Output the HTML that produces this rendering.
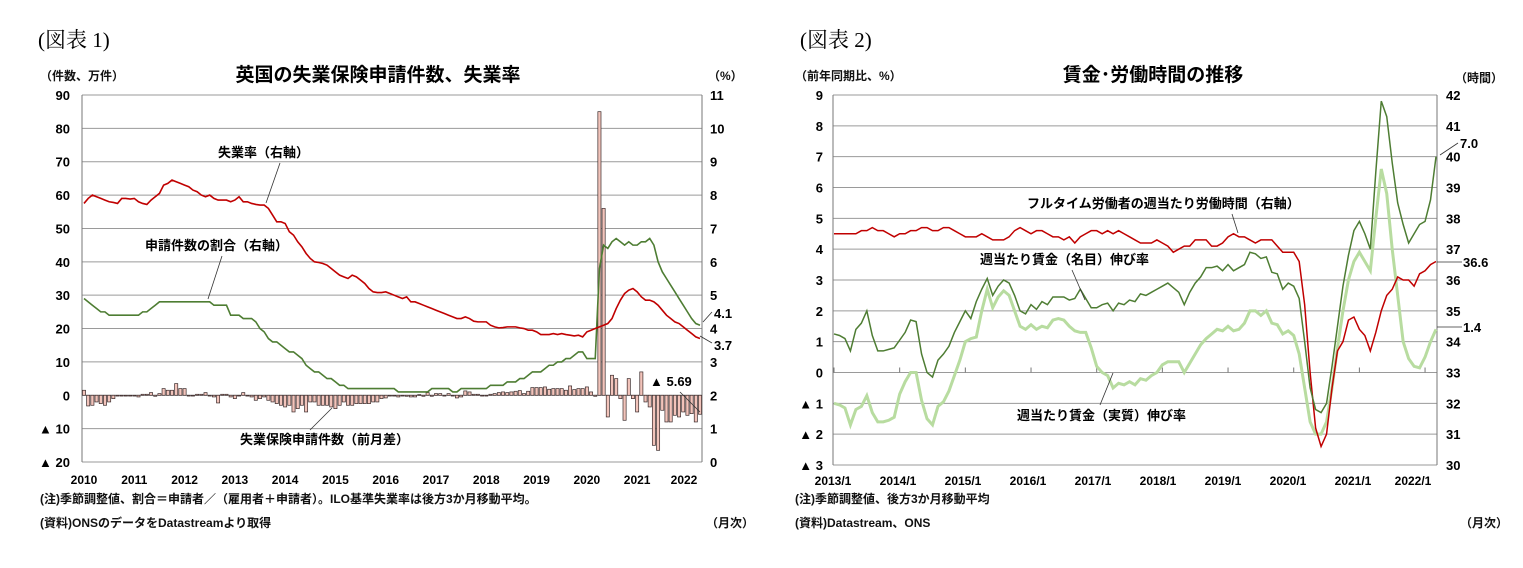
<!DOCTYPE html>
<html><head><meta charset="utf-8">
<style>
html,body{margin:0;padding:0;background:#fff;}
svg{display:block;font-family:"Liberation Sans","Noto Sans CJK JP",sans-serif;}
.t{font-size:12px;font-weight:bold;fill:#111}
</style></head>
<body>
<svg id="s" width="1523" height="568" viewBox="0 0 1523 568">
<text x="38" y="47" font-size="21" font-family="Liberation Serif,Noto Serif CJK SC,serif">(図表 1)</text>
<text x="800" y="47" font-size="21" font-family="Liberation Serif,Noto Serif CJK SC,serif">(図表 2)</text>
<text x="378" y="81" font-size="19" font-weight="bold" text-anchor="middle">英国の失業保険申請件数、失業率</text>
<text x="1153" y="81" font-size="19" font-weight="bold" text-anchor="middle">賃金･労働時間の推移</text>
<text x="40" y="80" class="t">（件数、万件）</text>
<text x="708" y="80" class="t">（%）</text>
<text x="795" y="80" class="t">（前年同期比、%）</text>
<text x="1455" y="82" class="t">（時間）</text>
<text x="40" y="503" class="t">(注)季節調整値、割合＝申請者／（雇用者＋申請者）。ILO基準失業率は後方3か月移動平均。</text>
<text x="40" y="527" class="t">(資料)ONSのデータをDatastreamより取得</text>
<text x="706" y="527" class="t">（月次）</text>
<text x="795" y="503" class="t">(注)季節調整値、後方3か月移動平均</text>
<text x="795" y="527" class="t">(資料)Datastream、ONS</text>
<text x="1460" y="527" class="t">（月次）</text>
<g id="c1"></g><g id="c2"></g>
</svg>
<script>
// ---- Chart 1 data (monthly 2010/1 - 2022/4) ----
const c1Years = ["2010","2011","2012","2013","2014","2015","2016","2017","2018","2019","2020","2021","2022"];
const c1LeftTicks = [90,80,70,60,50,40,30,20,10,0,-10,-20];
const c1RightTicks = [11,10,9,8,7,6,5,4,3,2,1,0];
const claims = [1.5,-3.2,-3,-2,-2.5,-3,-2,-1,0,0,0,0,
 0,-0.5,0.3,0.3,0.8,-0.3,0.5,2,1.5,1.5,3.5,2,
 2,0,0,0.3,0.3,0.8,0,-0.5,-2.3,0.3,0.3,-0.5,
 -1,0,0.8,0,-0.5,-1.5,-1,-0.5,-1.5,-2,-2.5,-3,
 -3.5,-3,-5,-4,-3,-5,-2,-2,-3,-3,-3,-3.5,
 -4,-3,-2,-3,-3,-2.5,-2.5,-2.5,-2.5,-2,-2,-1,
 -0.8,0,0,-0.5,-0.2,-0.3,-0.5,-0.5,0.2,-0.3,0.8,-0.3,
 0.5,0.5,0,0.5,-0.2,-0.8,-0.5,1.3,1,0.3,0.3,-0.2,
 0,0.3,0.5,0.8,1,0.8,1,1.2,1.4,0.5,1.2,2.3,
 2.3,2.3,2.5,1.8,2,2,2,1.5,2.8,1.7,2,2,
 2.5,1,-0.3,85,56,-6.5,6,5,-1,-7.5,5,-1,
 -5,7,-2,-3.5,-15,-16.5,-4.5,-8,-8,-6,-6.5,-5,
 -6,-5.5,-8,-5.69];
const unemp = [7.75,7.9,8.0,7.95,7.9,7.85,7.8,7.78,7.75,7.9,7.9,7.88,
 7.9,7.8,7.75,7.72,7.85,7.95,8.05,8.3,8.35,8.45,8.4,8.35,
 8.3,8.25,8.15,8.1,8.0,7.95,8.0,7.9,7.85,7.85,7.85,7.8,
 7.85,7.95,7.8,7.8,7.75,7.72,7.7,7.7,7.6,7.4,7.2,7.2,
 7.15,6.9,6.8,6.6,6.45,6.25,6.1,6.0,5.98,5.95,5.9,5.8,
 5.7,5.6,5.55,5.5,5.6,5.55,5.45,5.35,5.2,5.1,5.08,5.08,
 5.1,5.05,5.0,4.95,4.9,4.95,4.8,4.8,4.75,4.7,4.65,4.6,
 4.55,4.5,4.45,4.4,4.35,4.3,4.3,4.35,4.3,4.22,4.2,4.2,
 4.2,4.1,4.05,4.02,4.03,4.05,4.05,4.05,4.02,4.0,3.95,3.95,
 3.9,3.82,3.82,3.82,3.85,3.82,3.85,3.82,3.8,3.78,3.8,3.75,
 3.9,3.95,4.0,4.05,4.1,4.15,4.3,4.6,4.85,5.05,5.15,5.2,
 5.1,4.95,4.85,4.85,4.8,4.7,4.55,4.4,4.3,4.2,4.15,4.05,
 3.95,3.85,3.75,3.7];
const share = [4.9,4.8,4.7,4.6,4.5,4.5,4.4,4.4,4.4,4.4,4.4,4.4,
 4.4,4.4,4.5,4.5,4.6,4.7,4.8,4.8,4.8,4.8,4.8,4.8,
 4.8,4.8,4.8,4.8,4.8,4.8,4.8,4.7,4.7,4.7,4.7,4.4,
 4.4,4.4,4.3,4.3,4.3,4.2,4.0,3.9,3.7,3.6,3.6,3.5,
 3.4,3.3,3.3,3.2,3.1,2.9,2.8,2.7,2.7,2.6,2.5,2.5,
 2.4,2.3,2.3,2.2,2.2,2.2,2.2,2.2,2.2,2.2,2.2,2.2,
 2.2,2.2,2.2,2.1,2.1,2.1,2.1,2.1,2.1,2.1,2.1,2.2,
 2.2,2.2,2.2,2.2,2.1,2.1,2.2,2.2,2.2,2.2,2.2,2.2,
 2.2,2.3,2.3,2.3,2.3,2.4,2.4,2.4,2.5,2.5,2.6,2.7,
 2.7,2.7,2.8,2.9,2.9,3.0,3.0,3.1,3.1,3.2,3.3,3.3,
 3.1,3.1,3.1,5.8,6.5,6.4,6.6,6.7,6.6,6.5,6.6,6.5,
 6.5,6.6,6.6,6.7,6.5,6.0,5.7,5.5,5.3,5.1,4.9,4.7,
 4.5,4.3,4.15,4.1];
// ---- Chart 2 data (monthly 2013/1 - 2022/3) ----
const c2Years = ["2013/1","2014/1","2015/1","2016/1","2017/1","2018/1","2019/1","2020/1","2021/1","2022/1"];
const c2LeftTicks = [9,8,7,6,5,4,3,2,1,0,-1,-2,-3];
const c2RightTicks = [42,41,40,39,38,37,36,35,34,33,32,31,30];
const nominal = [1.25,1.2,1.1,0.7,1.4,1.6,2.0,1.2,0.7,0.7,0.75,0.8,
 1.05,1.3,1.7,1.65,0.6,0.0,-0.15,0.4,0.6,0.85,1.3,1.65,
 2.0,1.75,2.3,2.7,3.05,2.5,2.8,3.0,2.9,2.5,2.0,1.9,
 2.2,2.05,2.3,2.2,2.45,2.45,2.45,2.35,2.4,2.7,2.4,2.1,
 2.1,2.2,2.25,2.0,2.25,2.2,2.35,2.3,2.55,2.5,2.6,2.7,
 2.8,2.9,2.75,2.6,2.2,2.6,2.9,3.1,3.4,3.4,3.45,3.3,
 3.5,3.3,3.4,3.5,3.9,3.85,3.7,3.75,3.25,3.2,2.7,2.9,
 2.8,2.4,1.0,-0.5,-1.2,-1.3,-1.0,0.2,1.5,2.8,3.8,4.6,
 4.9,4.5,4.0,6.5,8.8,8.3,6.8,5.5,4.8,4.2,4.5,4.8,
 4.9,5.6,7.0];
const real = [-1.0,-1.05,-1.15,-1.7,-1.2,-1.1,-0.75,-1.3,-1.6,-1.6,-1.55,-1.45,
 -0.7,-0.3,0.0,0.0,-0.9,-1.5,-1.7,-1.1,-0.95,-0.6,-0.1,0.4,
 1.0,1.1,1.15,2.0,2.7,2.1,2.45,2.65,2.5,2.0,1.5,1.4,
 1.55,1.4,1.5,1.45,1.7,1.75,1.7,1.5,1.35,1.3,1.3,0.8,
 0.2,0.0,-0.1,-0.5,-0.35,-0.4,-0.3,-0.4,-0.2,-0.25,-0.1,0.0,
 0.25,0.35,0.35,0.35,0.0,0.3,0.6,0.9,1.1,1.25,1.4,1.35,
 1.5,1.35,1.4,1.6,2.0,2.0,1.85,2.0,1.6,1.55,1.25,1.35,
 1.2,0.6,-0.5,-1.6,-2.0,-2.0,-1.6,-0.5,0.8,2.0,3.0,3.6,
 3.9,3.6,3.3,5.0,6.6,5.8,4.0,2.5,1.0,0.45,0.2,0.15,
 0.5,1.0,1.4];
const hours = [37.5,37.5,37.5,37.5,37.5,37.6,37.6,37.7,37.6,37.6,37.5,37.4,
 37.5,37.5,37.6,37.6,37.7,37.7,37.6,37.6,37.7,37.7,37.6,37.5,
 37.4,37.4,37.4,37.5,37.4,37.3,37.3,37.3,37.4,37.6,37.7,37.6,
 37.5,37.6,37.6,37.5,37.4,37.4,37.3,37.4,37.2,37.4,37.5,37.6,
 37.6,37.5,37.6,37.5,37.6,37.5,37.4,37.3,37.2,37.2,37.2,37.3,
 37.2,37.1,36.9,37.0,37.1,37.1,37.3,37.3,37.3,37.1,37.1,37.2,
 37.4,37.5,37.4,37.4,37.3,37.2,37.3,37.3,37.3,37.1,36.9,36.9,
 36.9,36.6,35.2,33.0,31.2,30.6,31.0,32.5,33.7,34.0,34.7,34.8,
 34.4,34.2,33.7,34.3,35.0,35.5,35.7,36.1,36.0,36.0,35.8,36.2,
 36.3,36.5,36.6];

const NS="http://www.w3.org/2000/svg";
function mk(parent,tag,attrs,text){const e=document.createElementNS(NS,tag);for(const k in attrs)e.setAttribute(k,attrs[k]);if(text!==undefined)e.textContent=text;parent.appendChild(e);return e;}
function fmtTick(v){return v<0?"▲ "+(-v):String(v);}

// ---- Chart 1 ----
(function(){
 const g=document.getElementById('c1');
 const L=82,R=702,T=95,B=462;
 const x=i=>L+2+i*(R-L-4)/(claims.length-1);
 const yL=v=>T+(90-v)*(B-T)/110;
 const yR=v=>T+(11-v)*(B-T)/11;
 c1LeftTicks.forEach(v=>{
  const gl=mk(g,'line',{x1:L,x2:R,y1:yL(v),y2:yL(v),stroke:'#9a9a9a','stroke-width':1});
  
  
  const t=mk(g,'text',{x:L-12,y:yL(v)+5,'text-anchor':'end','font-size':13,'font-weight':'bold'},fmtTick(v));
  
  
 });
 c1RightTicks.forEach(v=>{
  const t=mk(g,'text',{x:R+8,y:yR(v)+5,'font-size':13,'font-weight':'bold'},String(v));
  
  
 });
 mk(g,'line',{x1:L,x2:L,y1:T,y2:B,stroke:'#777'});
 mk(g,'line',{x1:R,x2:R,y1:T,y2:B,stroke:'#777'});
 c1Years.forEach((yr,k)=>{
  let px=x(k*12);if(px>684)px=684;
  const t=mk(g,'text',{x:px,y:484,'text-anchor':'middle','font-size':12,'font-weight':'bold'},yr);
  
  
 });
 const bw=(R-L)/claims.length*0.75;
 claims.forEach((v,i)=>{
  const y0=yL(0),y1=yL(v);
  const b=mk(g,'rect',{x:x(i)-bw/2,y:Math.min(y0,y1),width:bw,height:Math.max(0.8,Math.abs(y1-y0)),fill:'#f2c4bb',stroke:'#3a2a2a','stroke-width':0.7});
  
  
 });
 const pl=(arr,col,name)=>{const p=mk(g,'polyline',{points:arr.map((v,i)=>x(i)+','+yR(v)).join(' '),fill:'none',stroke:col,'stroke-width':1.6});
  
  };
 pl(share,'#4e7d33','claimant-share-line');
 pl(unemp,'#c00000','unemployment-rate-line');
 const ann=(tx,ty,text,x1,y1,x2,y2,name)=>{
  const t=mk(g,'text',{x:tx,y:ty,'font-size':13,'font-weight':'bold'},text);
  
  
  if(x1!==undefined){mk(g,'line',{x1,y1,x2,y2,stroke:'#333','stroke-width':0.8});}
 };
 ann(218,157,'失業率（右軸）',280,163,266,203,'unemployment-rate-label');
 ann(145,250,'申請件数の割合（右軸）',222,256,208,299,'claimant-share-label');
 ann(240,444,'失業保険申請件数（前月差）',310,430,332,408,'claims-label');
 ann(650,386,'▲ 5.69',680,392,700,412,'last-claims-label');
 ann(714,318,'4.1',712,312,703,322,'last-share-label');
 ann(714,350,'3.7',712,343,700,336,'last-unemp-label');
})();

// ---- Chart 2 ----
(function(){
 const g=document.getElementById('c2');
 const L=833,R=1437,T=95,B=465;
 const x=i=>L+1+i*(R-L-2)/(nominal.length-1);
 const yL=v=>T+(9-v)*(B-T)/12;
 const yR=v=>T+(42-v)*(B-T)/12;
 c2LeftTicks.forEach(v=>{
  const gl=mk(g,'line',{x1:L,x2:R,y1:yL(v),y2:yL(v),stroke:'#9a9a9a','stroke-width':1});
  
  
  const t=mk(g,'text',{x:L-10,y:yL(v)+5,'text-anchor':'end','font-size':13,'font-weight':'bold'},fmtTick(v));
  
  
 });
 c2RightTicks.forEach(v=>{
  const t=mk(g,'text',{x:R+9,y:yR(v)+5,'font-size':13,'font-weight':'bold'},String(v));
  
  
 });
 mk(g,'line',{x1:L,x2:L,y1:T,y2:B,stroke:'#777'});
 mk(g,'line',{x1:R,x2:R,y1:T,y2:B,stroke:'#777'});
 c2Years.forEach((yr,k)=>{
  mk(g,'line',{x1:x(k*12),x2:x(k*12),y1:yL(0),y2:yL(0)-5,stroke:'#777'});
  const t=mk(g,'text',{x:Math.min(L+k*65,1413),y:485,'text-anchor':'middle','font-size':12,'font-weight':'bold'},yr);
  
  
 });
 const pl=(arr,f,col,w,name)=>{const p=mk(g,'polyline',{points:arr.map((v,i)=>x(i)+','+f(v)).join(' '),fill:'none',stroke:col,'stroke-width':w});
  
  };
 pl(real,yL,'#b8dca0',3,'real-wage-line');
 pl(hours,yR,'#c00000',1.5,'hours-line');
 pl(nominal,yL,'#4e7d33',1.5,'nominal-wage-line');
 const ann=(tx,ty,text,x1,y1,x2,y2,name)=>{
  const t=mk(g,'text',{x:tx,y:ty,'font-size':13,'font-weight':'bold'},text);
  
  
  if(x1!==undefined){mk(g,'line',{x1,y1,x2,y2,stroke:'#333','stroke-width':0.8});}
 };
 ann(1027,208,'フルタイム労働者の週当たり労働時間（右軸）',1232,214,1238,233,'hours-label');
 ann(980,264,'週当たり賃金（名目）伸び率',1072,270,1085,300,'nominal-wage-label');
 ann(1017,420,'週当たり賃金（実質）伸び率',1100,405,1113,373,'real-wage-label');
 ann(1460,148,'7.0',1458,143,1440,155,'last-nominal-label');
 ann(1463,267,'36.6',1437,262,1462,262,'last-hours-label');
 ann(1463,332,'1.4',1437,327,1462,327,'last-real-label');
})();
</script>
</body></html>
